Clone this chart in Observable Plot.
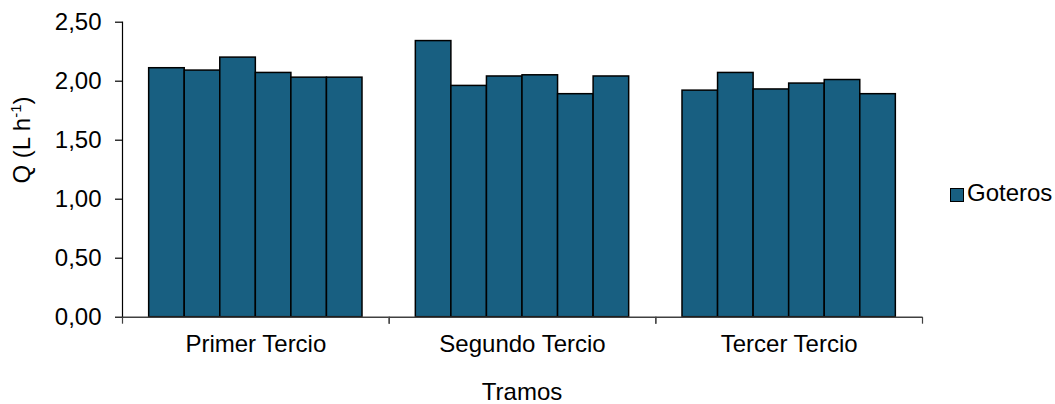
<!DOCTYPE html>
<html><head><meta charset="utf-8">
<script src="https://cdn.jsdelivr.net/npm/d3@7"></script>
<script src="https://cdn.jsdelivr.net/npm/@observablehq/plot@0.6"></script>
<style>
body{margin:0;background:#fff;font-family:"Liberation Sans",Arial,sans-serif;color:#000;}
#wrap{position:relative;width:1055px;height:404px;overflow:hidden;}
#wrap svg{position:absolute;left:0;top:0;}
.lab{position:absolute;font-size:24px;line-height:24px;white-space:nowrap;}
#ylab{left:22px;top:140px;transform:translate(-50%,-50%) rotate(-90deg);}
#xlab{left:522px;top:380px;transform:translateX(-50%);}
#legend{left:950px;top:181px;display:flex;align-items:flex-start;}
#legend .sw{width:12px;height:12px;border:1.5px solid #000;margin-top:7px;margin-right:3px;}
sup{font-size:15px;vertical-align:9px;line-height:0;}
</style></head><body><div id="wrap"></div>
<script>
const categories = ["Primer Tercio", "Segundo Tercio", "Tercer Tercio"];
const emitters = ["1", "2", "3", "4", "5", "6"];
const primerTercio = [2.11, 2.09, 2.20, 2.07, 2.03, 2.03];
const segundoTercio = [2.34, 1.96, 2.04, 2.05, 1.89, 2.04];
const tercerTercio = [1.92, 2.07, 1.93, 1.98, 2.01, 1.89];
const yTicks = [0, 0.5, 1, 1.5, 2, 2.5];
const seriesName = "Goteros";
const xTitle = "Tramos";
const barColor = "#185f81";

const seriesByCat = [primerTercio, segundoTercio, tercerTercio];
const data = [];
categories.forEach((c, ci) => emitters.forEach((e, ei) => data.push({tramo: c, gotero: e, q: seriesByCat[ci][ei]})));

const W = 1055, H = 404, ML = 122, MR = 133, MT = 21.7, MB = 87.3;
const bw = (W - ML - MR) / categories.length;

const chart = Plot.plot({
  width: W, height: H,
  marginLeft: ML, marginRight: MR, marginTop: MT, marginBottom: MB,
  style: {fontFamily: '"Liberation Sans", Arial, sans-serif', fontSize: "24px", color: "#000", background: "transparent"},
  fx: {domain: categories, padding: 0, label: null, round: false},
  x: {domain: emitters, paddingInner: 0, paddingOuter: 0.75, axis: null, round: false},
  y: {domain: [0, 2.5], label: null},
  marks: [
    Plot.barY(data, {fx: "tramo", x: "gotero", y: "q", fill: barColor, stroke: "#000", strokeWidth: 1.5}),
    Plot.ruleY([0], {stroke: "#404040", strokeWidth: 1.5}),
    Plot.frame({anchor: "left", facetAnchor: "left", stroke: "#000", strokeWidth: 1.2}),
    Plot.axisY({ticks: yTicks, tickSize: 7, tickPadding: 14, strokeWidth: 1.2,
      tickFormat: d => d.toFixed(2).replace(".", ","), label: null}),
    Plot.axisFx({anchor: "bottom", tickSize: 0, tickPadding: 18, label: null}),
    Plot.axisFx({anchor: "bottom", text: null, tickSize: 7, dx: -bw / 2, label: null, stroke: "#404040", strokeWidth: 1.2}),
    Plot.axisFx({anchor: "bottom", text: null, tickSize: 7, dx: bw / 2, label: null, stroke: "#404040", strokeWidth: 1.2})
  ]
});
const wrap = document.getElementById("wrap");
wrap.appendChild(chart);
const ylab = document.createElement("div");
ylab.className = "lab"; ylab.id = "ylab";
ylab.innerHTML = "Q (L h<sup>-1</sup>)";
wrap.appendChild(ylab);
const xlab = document.createElement("div");
xlab.className = "lab"; xlab.id = "xlab"; xlab.textContent = xTitle;
wrap.appendChild(xlab);
const leg = document.createElement("div");
leg.className = "lab"; leg.id = "legend";
const sw = document.createElement("div"); sw.className = "sw"; sw.style.background = barColor;
const lt = document.createElement("span"); lt.textContent = seriesName;
leg.appendChild(sw); leg.appendChild(lt);
wrap.appendChild(leg);
</script></body></html>
